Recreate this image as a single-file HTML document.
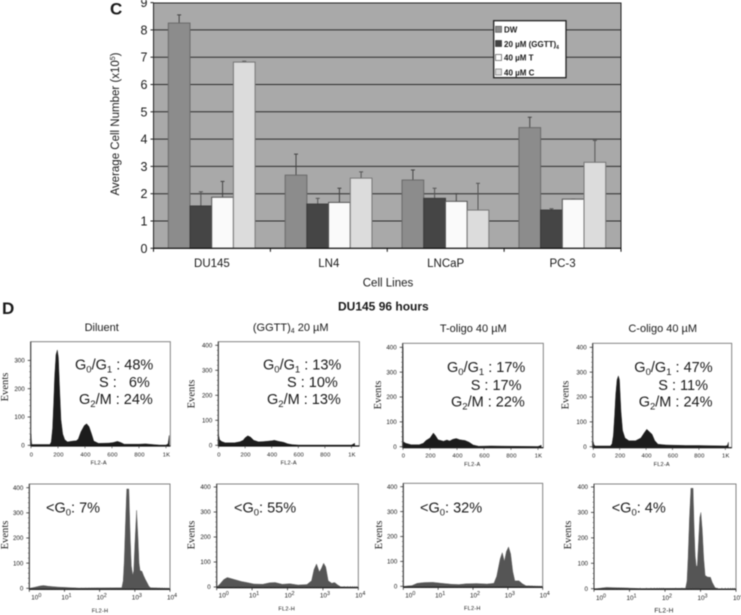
<!DOCTYPE html>
<html lang="en">
<head>
<meta charset="utf-8">
<title>Cell number and cell cycle figure</title>
<style>
html,body{margin:0;padding:0;background:#fff;width:741px;height:615px;overflow:hidden}
svg{display:block;filter:blur(.45px)}
text{font-family:"Liberation Sans",sans-serif;fill:#1a1a1a}
.ser{font-family:"Liberation Serif",serif;font-size:10.6px}
.stat{font-size:14.5px}
.ttl{font-size:11px;text-anchor:middle}
.fl{font-size:5.6px;text-anchor:middle;letter-spacing:.2px}
.lg{font-size:8px;font-weight:bold}
</style>
</head>
<body>
<svg id="fig" xmlns="http://www.w3.org/2000/svg" width="741" height="615" viewBox="0 0 741 615">
  <g id="barChart"></g>
  <g id="hist"></g>

  <text x="110" y="14.5" font-size="17" font-weight="bold">C</text>
  <text x="2" y="314" font-size="17" font-weight="bold">D</text>
  <text x="119" y="124" font-size="11.5" text-anchor="middle" transform="rotate(-90 119 124)">Average Cell Number (x10<tspan font-size="7" dy="-4">5</tspan><tspan dy="4">)</tspan></text>
  <text x="388" y="286.7" font-size="11.5" text-anchor="middle">Cell Lines</text>

  <g>
    <rect x="493.7" y="20.7" width="72.3" height="57" fill="#fff" stroke="#222" stroke-width="1.3"/>
    <rect x="495.5" y="26.3" width="6" height="6" fill="#8c8c8c" stroke="#555" stroke-width=".7"/>
    <text class="lg" x="504" y="32.3">DW</text>
    <rect x="495.5" y="40.5" width="6" height="6" fill="#444" stroke="#333" stroke-width=".7"/>
    <text class="lg" x="504" y="47">20 µM (GGTT)<tspan font-size="5" dy="2">4</tspan></text>
    <rect x="495.5" y="54.5" width="6" height="6" fill="#fff" stroke="#555" stroke-width=".7"/>
    <text class="lg" x="504" y="60.7">40 µM T</text>
    <rect x="495.5" y="69" width="6" height="6" fill="#dcdcdc" stroke="#777" stroke-width=".7"/>
    <text class="lg" x="504" y="75.3">40 µM C</text>
  </g>

  <text x="338" y="310.7" font-size="12" font-weight="bold">DU145 96 hours</text>
  <text class="ttl" x="101.7" y="331">Diluent</text>
  <text class="ttl" x="290.7" y="331">(GGTT)<tspan font-size="7" dy="2">4</tspan><tspan dy="-2"> 20 µM</tspan></text>
  <text class="ttl" x="473.3" y="332">T-oligo 40 µM</text>
  <text class="ttl" x="662.7" y="332">C-oligo 40 µM</text>

  <g class="stat">
    <text class="stat" x="75" y="369.5">G<tspan font-size="9.5" dy="3">0</tspan><tspan dy="-3">/G</tspan><tspan font-size="9.5" dy="3">1</tspan><tspan dy="-3"> : 48%</tspan></text>
    <text class="stat" x="99" y="387">S :&#160;&#160;&#160;6%</text>
    <text class="stat" x="79" y="404">G<tspan font-size="9.5" dy="3">2</tspan><tspan dy="-3">/M : 24%</tspan></text>
  </g>
  <g class="stat">
    <text class="stat" x="263" y="369.5">G<tspan font-size="9.5" dy="3">0</tspan><tspan dy="-3">/G</tspan><tspan font-size="9.5" dy="3">1</tspan><tspan dy="-3"> : 13%</tspan></text>
    <text class="stat" x="287" y="387">S : 10%</text>
    <text class="stat" x="267" y="404">G<tspan font-size="9.5" dy="3">2</tspan><tspan dy="-3">/M : 13%</tspan></text>
  </g>
  <g class="stat">
    <text class="stat" x="447" y="372">G<tspan font-size="9.5" dy="3">0</tspan><tspan dy="-3">/G</tspan><tspan font-size="9.5" dy="3">1</tspan><tspan dy="-3"> : 17%</tspan></text>
    <text class="stat" x="470.7" y="390">S : 17%</text>
    <text class="stat" x="451" y="406.7">G<tspan font-size="9.5" dy="3">2</tspan><tspan dy="-3">/M : 22%</tspan></text>
  </g>
  <g class="stat">
    <text class="stat" x="634.3" y="372">G<tspan font-size="9.5" dy="3">0</tspan><tspan dy="-3">/G</tspan><tspan font-size="9.5" dy="3">1</tspan><tspan dy="-3"> : 47%</tspan></text>
    <text class="stat" x="658.3" y="390">S : 11%</text>
    <text class="stat" x="638.7" y="406.7">G<tspan font-size="9.5" dy="3">2</tspan><tspan dy="-3">/M : 24%</tspan></text>
  </g>

  <text class="stat" x="46" y="512.7">&lt;G<tspan font-size="9.5" dy="3">0</tspan><tspan dy="-3">: 7%</tspan></text>
  <text class="stat" x="234" y="512.7">&lt;G<tspan font-size="9.5" dy="3">0</tspan><tspan dy="-3">: 55%</tspan></text>
  <text class="stat" x="420" y="512.7">&lt;G<tspan font-size="9.5" dy="3">0</tspan><tspan dy="-3">: 32%</tspan></text>
  <text class="stat" x="611.7" y="512.7">&lt;G<tspan font-size="9.5" dy="3">0</tspan><tspan dy="-3">: 4%</tspan></text>

  <text class="ser" x="8" y="387" text-anchor="middle" transform="rotate(-90 8 387)">Events</text>
  <text class="ser" x="194.3" y="394" text-anchor="middle" transform="rotate(-90 194.3 394)">Events</text>
  <text class="ser" x="381" y="395" text-anchor="middle" transform="rotate(-90 381 395)">Events</text>
  <text class="ser" x="568.7" y="395" text-anchor="middle" transform="rotate(-90 568.7 395)">Events</text>
  <text class="ser" x="8" y="535" text-anchor="middle" transform="rotate(-90 8 535)">Events</text>
  <text class="ser" x="194.7" y="535" text-anchor="middle" transform="rotate(-90 194.7 535)">Events</text>
  <text class="ser" x="382" y="535" text-anchor="middle" transform="rotate(-90 382 535)">Events</text>
  <text class="ser" x="571" y="535" text-anchor="middle" transform="rotate(-90 571 535)">Events</text>

  <text class="fl" x="98.7" y="464.7">FL2-A</text>
  <text class="fl" x="288.7" y="464.7">FL2-A</text>
  <text class="fl" x="472.3" y="466">FL2-A</text>
  <text class="fl" x="661.7" y="466">FL2-A</text>
  <text class="fl" x="100" y="612.7">FL2-H</text>
  <text class="fl" x="286.7" y="610.3">FL2-H</text>
  <text class="fl" x="472.3" y="610">FL2-H</text>
  <text class="fl" x="664" y="612.7" style="font-size:6.6px">FL2-H</text>
</svg>

<script>
// ---- Bar chart data ----
const cellLines = ['DU145', 'LN4', 'LNCaP', 'PC-3'];
const yTicks = [0, 1, 2, 3, 4, 5, 6, 7, 8, 9];
const dwValues = [8.25, 2.68, 2.5, 4.42];
const ggttValues = [1.55, 1.62, 1.83, 1.4];
const tValues = [1.87, 1.68, 1.72, 1.8];
const cValues = [6.82, 2.57, 1.4, 3.15];
const dwErrTop = [8.55, 3.45, 2.87, 4.8];
const ggttErrTop = [2.07, 1.83, 2.2, 1.45];
const tErrTop = [2.45, 2.2, 2.0, 1.8];
const cErrTop = [6.85, 2.8, 2.38, 3.95];

// ---- Histogram data: linear channels (FL2-A) ----
const diluentAChannels = [0,5,10,140,150,160,168,175,185,195,203,212,222,235,250,270,310,335,350,370,395,412,430,450,465,500,580,610,640,665,690,800,850,900,950,1000,1015,1024];
const diluentAEvents = [40,5,3,3,12,60,150,240,320,337,310,200,90,40,20,12,15,16,22,48,70,76,66,38,15,7,8,10,14,10,4,4,5,3,1,1,5,35];
const ggttAChannels = [0,8,25,50,120,160,185,200,220,240,265,300,340,400,420,450,490,520,550,600,1000,1024];
const ggttAEvents = [45,22,15,10,10,14,20,30,38,33,20,14,15,18,20,16,12,6,3,1,1,8];
const tAChannels = [0,3,20,60,120,150,170,200,225,240,260,300,325,345,370,395,420,460,490,520,560,650,800,1000,1024];
const tAEvents = [400,20,14,8,8,14,25,35,55,45,28,22,27,23,30,33,28,25,18,7,2,3,2,1,6];
const cAChannels = [0,5,15,130,142,152,162,170,180,190,198,210,222,240,270,320,360,385,405,425,445,465,490,550,700,800,1000,1015,1024];
const cAEvents = [20,8,3,3,12,45,130,210,270,285,270,140,65,35,24,24,35,55,70,60,50,25,10,7,5,5,3,5,18];

// ---- Histogram data: log decades (FL2-H) ----
const diluentHDecades = [0,.15,.3,.4,.55,.8,1.1,1.4,2.63,2.67,2.7,2.73,2.77,2.83,2.87,2.9,2.94,2.97,3.0,3.05,3.09,3.12,3.15,3.2,3.25,3.3,3.35,3.4,3.45,4];
const diluentHEvents = [0,4,9,11,8,5,3,1,2,30,110,240,395,395,200,90,52,70,170,310,200,100,70,68,50,35,22,8,2,0];
const ggttHDecades = [0,.08,.2,.3,.5,.7,.85,1.05,1.3,1.5,1.65,1.85,2.07,2.3,2.55,2.68,2.75,2.82,2.9,2.96,3.02,3.08,3.15,3.25,3.33,3.42,3.5,4];
const ggttHEvents = [0,10,30,38,30,22,18,12,11,17,18,11,13,8,10,25,70,92,60,75,95,80,25,15,18,8,1,0];
const tHDecades = [0,.25,.4,.6,.85,1.1,1.4,1.6,1.8,2.1,2.4,2.6,2.68,2.78,2.84,2.9,2.96,3.02,3.08,3.14,3.2,3.32,3.42,3.52,4];
const tHEvents = [0,3,12,15,16,12,8,7,10,11,9,12,40,110,135,100,140,158,130,60,22,22,10,2,0];
const cHDecades = [0,.1,.35,.6,.9,1.3,2.58,2.62,2.65,2.69,2.73,2.79,2.82,2.85,2.88,2.91,2.94,2.98,3.01,3.05,3.09,3.13,3.2,3.28,3.33,3.41,3.5,4];
const cHEvents = [0,1,5,4,3,1,2,30,120,280,395,395,240,130,88,90,170,280,300,230,120,52,46,45,25,4,0,0];

// ---- Tick labels ----
const countTicks400 = [0, 100, 200, 300, 400];
const countTicks300 = [0, 100, 200, 300];
const channelTicks = [0, 200, 400, 600, 800, 1000];
const channelTickLabels = ['0', '200', '400', '600', '800', '1K'];
const decadeTicks = [0, 1, 2, 3, 4];

const NS = 'http://www.w3.org/2000/svg';
function mk(parent, tag, attrs, text) {
  const el = document.createElementNS(NS, tag);
  for (const k in attrs) el.setAttribute(k, attrs[k]);
  if (text !== undefined) el.textContent = text;
  parent.appendChild(el);
  return el;
}

// ---- Draw bar chart ----
(function () {
  const g = document.getElementById('barChart');
  const L = 153.5, R = 621, T = 3, B = 248.3;
  const yAxis = v => B - 27.3 * v;
  const catW = (R - L) / cellLines.length;
  const barW = 21.7;
  const xAxis = (c, s) => L + c * catW + 14.8 + s * barW;
  const series = [
    { name: 'dw', vals: dwValues, err: dwErrTop, fill: '#8c8c8c', stroke: '#6a6a6a', ec: '#444' },
    { name: 'ggtt', vals: ggttValues, err: ggttErrTop, fill: '#454545', stroke: '#3a3a3a', ec: '#555' },
    { name: 't', vals: tValues, err: tErrTop, fill: '#fafafa', stroke: '#555', ec: '#444' },
    { name: 'c', vals: cValues, err: cErrTop, fill: '#dcdcdc', stroke: '#777', ec: '#555' }
  ];

  const bg = mk(g, 'rect', { x: L, y: T, width: R - L, height: B - T, fill: '#a9a9a9', stroke: '#222', 'stroke-width': 1 });
  
  

  yTicks.forEach(v => {
    if (v > 0 && v < 9) {
      const gl = mk(g, 'line', { x1: L, x2: R, y1: yAxis(v), y2: yAxis(v), stroke: '#2c2c2c', 'stroke-width': 1 });
      
      
    }
    const tk = mk(g, 'line', { x1: L - 3, x2: L, y1: yAxis(v), y2: yAxis(v), stroke: '#222', 'stroke-width': 1 });
    
    
    const lb = mk(g, 'text', { x: 147.5, y: yAxis(v) + 4.5, 'text-anchor': 'end', 'font-size': 12.5 }, String(v));
    
    
  });

  series.forEach((s, si) => {
    s.vals.forEach((v, c) => {
      const x = xAxis(c, si);
      const cx = x + barW / 2;
      const e = mk(g, 'line', { x1: cx, x2: cx, y1: yAxis(v), y2: yAxis(s.err[c]), stroke: s.ec, 'stroke-width': 1 });
      
      
      const cap = mk(g, 'line', { x1: cx - 2, x2: cx + 2, y1: yAxis(s.err[c]), y2: yAxis(s.err[c]), stroke: s.ec, 'stroke-width': 1 });
      
      
      const r = mk(g, 'rect', { x: x, y: yAxis(v), width: barW, height: B - yAxis(v), fill: s.fill, stroke: s.stroke, 'stroke-width': 1 });
      
      
    });
  });

  const ax = mk(g, 'line', { x1: L, x2: R, y1: B, y2: B, stroke: '#111', 'stroke-width': 1.2 });
  
  
  for (let i = 0; i <= cellLines.length; i++) {
    const t = mk(g, 'line', { x1: L + i * catW, x2: L + i * catW, y1: B, y2: B + 3.5, stroke: '#111', 'stroke-width': 1 });
    
    
  }
  cellLines.forEach((n, i) => {
    const t = mk(g, 'text', { x: L + (i + .5) * catW, y: 267, 'text-anchor': 'middle', 'font-size': 11.5 }, n);
    
    
  });
})();

// ---- Draw histograms ----
(function () {
  const root = document.getElementById('hist');
  const panels = [
    { name: 'diluent-a', xs: diluentAChannels, ys: diluentAEvents, ticks: countTicks300, log: false, l: 30.7, r: 170.3, t: 341.7, b: 446, x0: 31, k: .135, y0: 445.3, u: .283, lab: 456.7, fill: '#1c1c1c' },
    { name: 'ggtt-a', xs: ggttAChannels, ys: ggttAEvents, ticks: countTicks400, log: false, l: 218.3, r: 359.3, t: 341.7, b: 446, x0: 218.5, k: .133, y0: 445.3, u: .25, lab: 456.7, fill: '#1c1c1c' },
    { name: 't-oligo-a', xs: tAChannels, ys: tAEvents, ticks: countTicks400, log: false, l: 402.7, r: 543.3, t: 343.3, b: 447.7, x0: 403, k: .135, y0: 446.7, u: .2485, lab: 457.7, fill: '#1c1c1c' },
    { name: 'c-oligo-a', xs: cAChannels, ys: cAEvents, ticks: countTicks400, log: false, l: 592.7, r: 731.7, t: 343.3, b: 447.7, x0: 593.3, k: .132, y0: 446.7, u: .2485, lab: 457.7, fill: '#1c1c1c' },
    { name: 'diluent-h', xs: diluentHDecades, ys: diluentHEvents, ticks: countTicks400, log: true, l: 29.3, r: 170, t: 484, b: 589.3, y0: 588.3, u: .2515, lab: 599.3, fill: '#555' },
    { name: 'ggtt-h', xs: ggttHDecades, ys: ggttHEvents, ticks: countTicks400, log: true, l: 216.7, r: 358.3, t: 484, b: 587.7, y0: 587, u: .25, lab: 597.3, fill: '#555' },
    { name: 't-oligo-h', xs: tHDecades, ys: tHEvents, ticks: countTicks400, log: true, l: 403.3, r: 542.7, t: 483.3, b: 587.3, y0: 586.3, u: .249, lab: 597.3, fill: '#555' },
    { name: 'c-oligo-h', xs: cHDecades, ys: cHEvents, ticks: countTicks400, log: true, l: 594, r: 736, t: 484, b: 589.3, y0: 588.7, u: .2543, lab: 600, fill: '#555' }
  ];

  panels.forEach(p => {
    const g = mk(root, 'g', {});
    
    
    const xAxis = p.log ? (d => p.l + d * (p.r - p.l) / 4) : (c => p.x0 + c * p.k);
    const yAxis = v => p.y0 - v * p.u;

    const pts = p.xs.map((x, i) => xAxis(x).toFixed(2) + ',' + yAxis(p.ys[i]).toFixed(2));
    pts.unshift(xAxis(p.xs[0]).toFixed(2) + ',' + p.b);
    pts.push(xAxis(p.xs[p.xs.length - 1]).toFixed(2) + ',' + p.b);
    const area = mk(g, 'polygon', { points: pts.join(' '), fill: p.fill, stroke: p.fill, 'stroke-width': .4 });
    
    

    const fr = mk(g, 'rect', { x: p.l, y: p.t, width: p.r - p.l, height: p.b - p.t, fill: 'none', stroke: '#777', 'stroke-width': .9 });
    
    
    const la = mk(g, 'line', { x1: p.l, x2: p.l, y1: p.t, y2: p.b, stroke: '#333', 'stroke-width': 1 });
    
    
    const ba = mk(g, 'line', { x1: p.l, x2: p.r, y1: p.b, y2: p.b, stroke: '#111', 'stroke-width': 1.2 });
    
    

    p.ticks.forEach(v => {
      const t = mk(g, 'line', { x1: p.l - 3, x2: p.l, y1: yAxis(v), y2: yAxis(v), stroke: '#333', 'stroke-width': .8 });
      
      
      const lb = mk(g, 'text', { x: p.l - 6, y: yAxis(v) + 2.2, 'text-anchor': 'end', 'font-size': 6.2 }, String(v));
      
      
      if (v < p.ticks[p.ticks.length - 1]) {
        for (let m = 20; m < 100; m += 20) {
          const mt = mk(g, 'line', { x1: p.l - 1.5, x2: p.l, y1: yAxis(v + m), y2: yAxis(v + m), stroke: '#555', 'stroke-width': .5 });
          
          
        }
      }
    });

    if (p.log) {
      decadeTicks.forEach(d => {
        const t = mk(g, 'line', { x1: xAxis(d), x2: xAxis(d), y1: p.b, y2: p.b + 2.5, stroke: '#333', 'stroke-width': .8 });
        
        
        if (d < 4) {
          for (let m = 2; m < 10; m++) {
            const mx = xAxis(d + Math.log10(m));
            const mt = mk(g, 'line', { x1: mx, x2: mx, y1: p.b - 1.5, y2: p.b, stroke: '#444', 'stroke-width': .5 });
            
            
          }
        }
        const lb = mk(g, 'text', { x: xAxis(d) + (d === 0 ? 7 : 2), y: p.lab, 'text-anchor': 'middle', 'font-size': 6.4 }, '10');
        
        
        const sup = mk(lb, 'tspan', { 'font-size': 5.4, dy: -2.5 }, String(d));
        
        
      });
    } else {
      channelTicks.forEach((c, i) => {
        const t = mk(g, 'line', { x1: xAxis(c), x2: xAxis(c), y1: p.b, y2: p.b + 2.2, stroke: '#444', 'stroke-width': .7 });
        
        
        const lb = mk(g, 'text', { x: xAxis(c) + .5, y: p.lab, 'text-anchor': 'middle', 'font-size': 5.8, 'letter-spacing': .2 }, channelTickLabels[i]);
        
        
      });
    }
  });
})();
</script>
</body>
</html>
